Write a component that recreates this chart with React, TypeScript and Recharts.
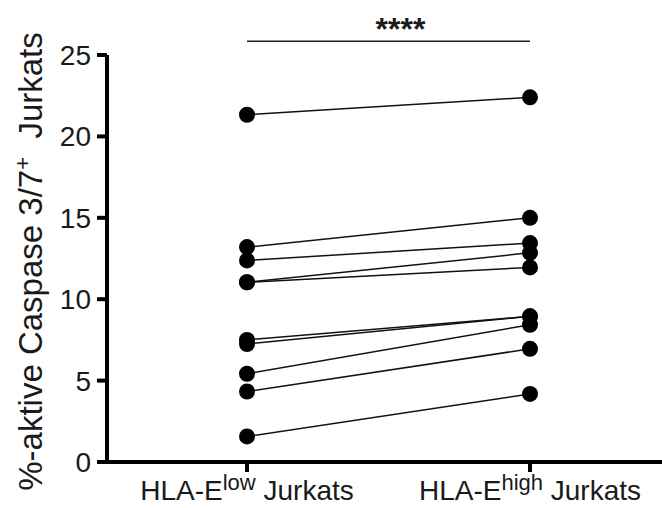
import { Line, LineChart, ReferenceLine, XAxis, YAxis } from 'recharts'

const groups = ['low', 'high']
// paired donor values, same order in both arrays
const lowValues = [21.33, 13.2, 12.38, 11.04, 11.04, 7.5, 7.25, 5.42, 4.33, 1.57]
const highValues = [22.4, 15.0, 13.45, 12.85, 11.95, 8.95, 8.95, 8.43, 6.95, 4.18]
const yTicks = [0, 5, 10, 15, 20, 25]
const sigLevel = 25.84
const sigText = '****'

const font = '"Liberation Sans", Arial, sans-serif'
const ink = '#1a1a1a'

const data = groups.map((g, gi) => {
  const row: Record<string, string | number> = { group: g }
  const src = gi === 0 ? lowValues : highValues
  src.forEach((v, i) => {
    row[`d${i}`] = v
  })
  return row
})

function GroupTick(props: any) {
  const { x, y, payload } = props
  return (
    <text x={x} y={y + 26} textAnchor="middle" fontSize={28} fontFamily={font} fill={ink}>
      HLA-E
      <tspan dy={-10} fontSize={22}>{payload.value}</tspan>
      <tspan dy={10}> Jurkats</tspan>
    </text>
  )
}

function YTitle(props: any) {
  const vb = props.viewBox
  const cx = 42
  const cy = vb.y + vb.height / 2 + 3
  return (
    <text
      x={cx}
      y={cy}
      textAnchor="middle"
      fontSize={33}
      fontFamily={font}
      fill={ink}
      transform={`rotate(-90, ${cx}, ${cy})`}
    >
      %-aktive Caspase 3/7
      <tspan dy={-12} fontSize={22}>+</tspan>
      <tspan dy={12}>{'\u00a0 Jurkats'}</tspan>
    </text>
  )
}

function Stars(props: any) {
  const vb = props.viewBox
  return (
    <text
      x={vb.x + vb.width / 2 + 12}
      y={vb.y - 1}
      textAnchor="middle"
      fontSize={32}
      fontWeight="bold"
      fontFamily={font}
      fill={ink}
    >
      {sigText}
    </text>
  )
}

export default function App() {
  return (
    <div style={{ position: 'absolute', left: 0, top: 0, background: '#fff' }}>
      <LineChart
        width={662}
        height={508}
        data={data}
        margin={{ top: 55, right: 0, bottom: 0, left: 0 }}
      >
        <XAxis
          dataKey="group"
          scale="point"
          padding={{ left: 140, right: 132 }}
          height={46}
          tickSize={10}
          tickMargin={2}
          axisLine={{ stroke: '#000', strokeWidth: 4 }}
          tickLine={{ stroke: '#000', strokeWidth: 4 }}
          tick={<GroupTick />}
        />
        <YAxis
          type="number"
          domain={[0, 25]}
          ticks={yTicks}
          width={107}
          tickSize={10}
          tickMargin={6}
          axisLine={{ stroke: '#000', strokeWidth: 4 }}
          tickLine={{ stroke: '#000', strokeWidth: 4 }}
          tick={{ fontSize: 28, fontFamily: font, fill: ink }}
          label={<YTitle />}
        />
        <ReferenceLine
          segment={[
            { x: 'low', y: sigLevel },
            { x: 'high', y: sigLevel },
          ]}
          ifOverflow="visible"
          stroke="#222"
          strokeWidth={1.5}
          label={<Stars />}
        />
        {lowValues.map((_, i) => (
          <Line
            key={i}
            dataKey={`d${i}`}
            type="linear"
            stroke="#111"
            strokeWidth={1.5}
            dot={{ r: 8, fill: '#000', stroke: '#000', strokeWidth: 0 }}
            activeDot={false}
            isAnimationActive={false}
          />
        ))}
      </LineChart>
    </div>
  )
}
